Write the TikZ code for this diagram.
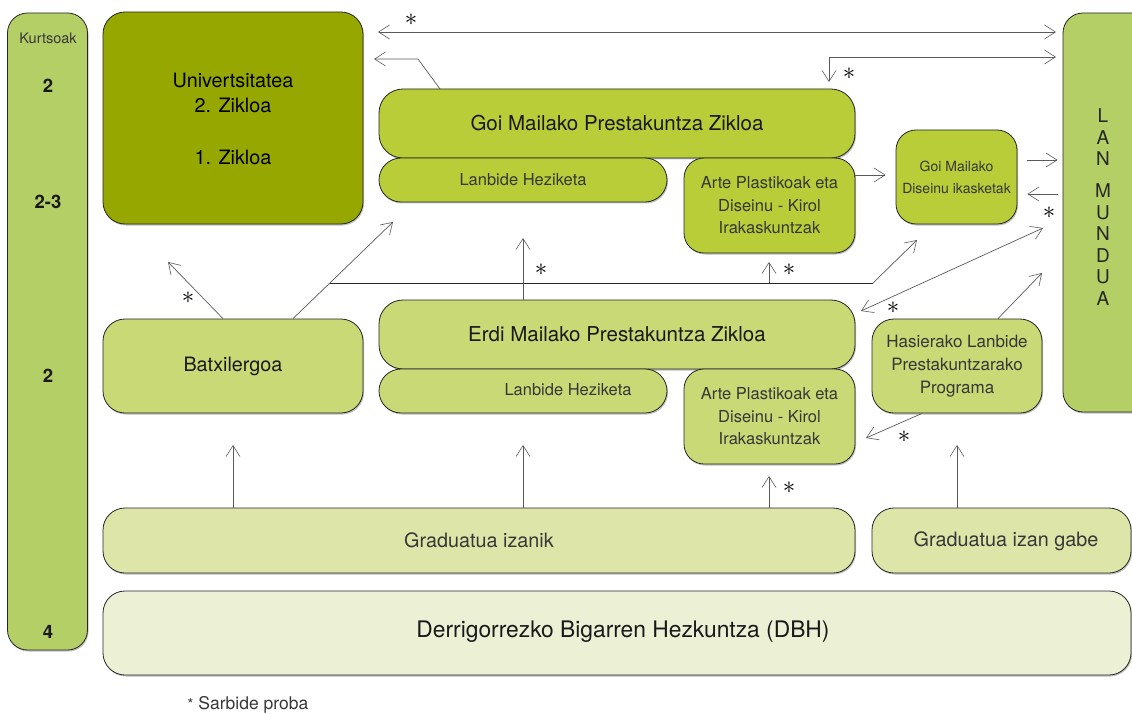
\documentclass[tikz,border=0pt]{standalone}
\usepackage{fontspec}
\setmainfont{TeX Gyre Heros}
\usetikzlibrary{arrows.meta,shadows}
\definecolor{kurtsC}{RGB}{181,207,103}
\definecolor{uniC}{RGB}{150,168,0}
\definecolor{goiC}{RGB}{184,205,56}
\definecolor{erdiC}{RGB}{200,217,118}
\definecolor{gradC}{RGB}{221,230,168}
\definecolor{dbhC}{RGB}{236,241,214}
\definecolor{lineC}{RGB}{90,90,90}
\definecolor{txtC}{RGB}{55,55,55}
\tikzset{
  box/.style={draw=black!85, line width=0.8pt, rounded corners=22pt, inner sep=0pt,
    align=center, text=black!90,
    drop shadow={shadow xshift=1pt, shadow yshift=-1.5pt, opacity=0.25, fill=black}},
  arr/.style={draw=lineC, line width=0.7pt, -{Straight Barb[length=11pt,width=14pt,line width=0.6pt]}},
  darr/.style={draw=lineC, line width=0.7pt, {Straight Barb[length=11pt,width=14pt,line width=0.6pt]}-{Straight Barb[length=11pt,width=14pt,line width=0.6pt]}},
  plainline/.style={draw=black!85, line width=0.8pt},
  star/.style={inner sep=0pt, text=black, font=\fontsize{30}{30}\selectfont},
  big/.style={font=\fontsize{20.5}{24}\selectfont},
  mid/.style={font=\fontsize{19.8}{24}\selectfont},
  sm/.style={font=\fontsize{16.5}{22.5}\selectfont, text=txtC},
  xs/.style={font=\fontsize{14}{22}\selectfont, text=txtC},
  num/.style={font=\fontsize{18.5}{20}\selectfont\bfseries, text=black!90},
}
\begin{document}
\begin{tikzpicture}[x=1pt,y=-1pt]
\useasboundingbox (0,0) rectangle (1132,714);
% columns
\node[box, fill=kurtsC, rounded corners=20pt, minimum width=80pt, minimum height=637pt] (kurts) at (47.5,331.5) {};
\node[font=\fontsize{14.5}{16}\selectfont, text=txtC] (kt) at (48,38) {Kurtsoak};
\node[num] (n1) at (48,86) {2};
\node[num] (n2) at (48,202) {2-3};
\node[num] (n3) at (48,376) {2};
\node[num] (n4) at (48,632) {4};
\node[box, fill=kurtsC, rounded corners=20pt, minimum width=100pt, minimum height=399pt] (lan) at (1113,212.5) {};
\node[font=\fontsize{19}{21.5}\selectfont, text=black!85, align=center] (lant) at (1103,207) {L\\A\\N\\[10.5pt]M\\U\\N\\D\\U\\A};
% university
\node[box, fill=uniC, minimum width=260pt, minimum height=212pt] (uni) at (233,118) {};
\node[mid] (u1) at (233,80) {Univertsitatea};
\node[mid] (u2) at (233,105) {2. Zikloa};
\node[mid] (u3) at (233,157) {1. Zikloa};
% goi
\node[box, fill=goiC, rounded corners=24pt, minimum width=476pt, minimum height=69pt, big] (goi) at (617,123.5) {Goi Mailako Prestakuntza Zikloa};
\node[box, fill=goiC, minimum width=288pt, minimum height=44pt, sm] (lh1) at (523,180) {Lanbide Heziketa};
\node[box, fill=goiC, rounded corners=20pt, minimum width=171pt, minimum height=95pt, sm] (ap1) at (769.5,205.5) {Arte Plastikoak eta\\Diseinu - Kirol\\Irakaskuntzak};
\node[box, fill=goiC, rounded corners=20pt, minimum width=121pt, minimum height=94pt, xs] (dis) at (956.5,177) {Goi Mailako\\Diseinu ikasketak};
% erdi
\node[box, fill=erdiC, minimum width=260pt, minimum height=94pt, mid] (batx) at (233,366) {Batxilergoa};
\node[box, fill=erdiC, rounded corners=24pt, minimum width=476pt, minimum height=69pt, big] (erdi) at (617,334.5) {Erdi Mailako Prestakuntza Zikloa};
\node[box, fill=erdiC, minimum width=288pt, minimum height=44pt] (lh2) at (523,391) {};
\node[sm] (lh2t) at (568,390) {Lanbide Heziketa};
\node[box, fill=erdiC, rounded corners=20pt, minimum width=171pt, minimum height=95pt, sm] (ap2) at (769.5,416.5) {Arte Plastikoak eta\\Diseinu - Kirol\\Irakaskuntzak};
\node[box, fill=erdiC, minimum width=170pt, minimum height=94pt, font=\fontsize{17}{23}\selectfont, text=txtC] (has) at (957,366) {Hasierako Lanbide\\Prestakuntzarako\\Programa};
% bottom
\node[box, fill=gradC, minimum width=752pt, minimum height=65pt, mid, text=txtC] (grad) at (479,540.5) {Graduatua izanik};
\node[box, fill=gradC, minimum width=259pt, minimum height=65pt] (gradg) at (1001.5,540.5) {};
\node[mid, text=txtC] (gradgt) at (1006,541) {Graduatua izan gabe};
\node[box, fill=dbhC, minimum width=1028pt, minimum height=84pt] (dbh) at (617,633) {};
\node[font=\fontsize{22.8}{24}\selectfont, text=black!90] (dbht) at (623,632) {Derrigorrezko Bigarren Hezkuntza (DBH)};
% footnote
\node[font=\fontsize{17.5}{19}\selectfont, text=txtC] (foot) at (248,705) {{\fontsize{15}{15}\selectfont*} Sarbide proba};
% coordinates
\coordinate (t1l) at (378,32);
\coordinate (t1r) at (1056,32);
\coordinate (t2l) at (374,59);
\coordinate (t2m) at (418,59);
\coordinate (t3c) at (829,57);
\coordinate (t3r) at (1056,57);
\coordinate (bx) at (168,262);
\coordinate (hj) at (330,283);
\coordinate (hr) at (873,283);
\coordinate (hd) at (917,240);
\coordinate (ul) at (393,222);
\coordinate (lanA) at (1043,228);
\coordinate (erdR) at (861,311);
\coordinate (hasA) at (1042,273);
\coordinate (apB) at (866,438);
% arrows
\draw[darr] (t1l) -- (t1r);
\draw[arr] (440,89) -- (t2m) -- (t2l);
\draw[darr] (829,82) -- (t3c) -- (t3r);
\draw[arr, shorten >=10pt] (ap1.east |- 0,175) -- (dis.west |- 0,175);
\draw[arr, shorten <=10pt, shorten >=5pt] (dis.east |- 0,160) -- (lan.west |- 0,160);
\draw[arr, shorten <=5pt, shorten >=10pt] (lan.west |- 0,194) -- (dis.east |- 0,194);
\draw[arr] (batx.north -| 223,0) -- (bx);
\draw[arr] (batx.north -| 293,0) -- (ul);
\draw[plainline] (hj) -- (hr);
\draw[arr, draw=lineC] (hr) -- (hd);
\draw[arr] (erdi.north -| 523,0) -- (523,238);
\draw[arr] (769,283) -- (769,262);
\draw[darr] (lanA) -- (erdR);
\draw[arr] (has.north -| 998,0) -- (hasA);
\draw[arr] (has.south -| 922,0) -- (apB);
\draw[arr] (grad.north -| 233,0) -- (233,445);
\draw[arr] (grad.north -| 523,0) -- (523,445);
\draw[arr] (grad.north -| 769,0) -- (769,476);
\draw[arr] (gradg.north -| 957,0) -- (957,445);
% stars
\node[star] (s1) at (411,20) {$\ast$};
\node[star] (s2) at (849,74) {$\ast$};
\node[star] (s3) at (1049,213) {$\ast$};
\node[star] (s4) at (188,298) {$\ast$};
\node[star] (s5) at (541,270) {$\ast$};
\node[star] (s6) at (789,270) {$\ast$};
\node[star] (s7) at (893,308) {$\ast$};
\node[star] (s8) at (904,437) {$\ast$};
\node[star] (s9) at (789,488) {$\ast$};
\end{tikzpicture}
\end{document}
